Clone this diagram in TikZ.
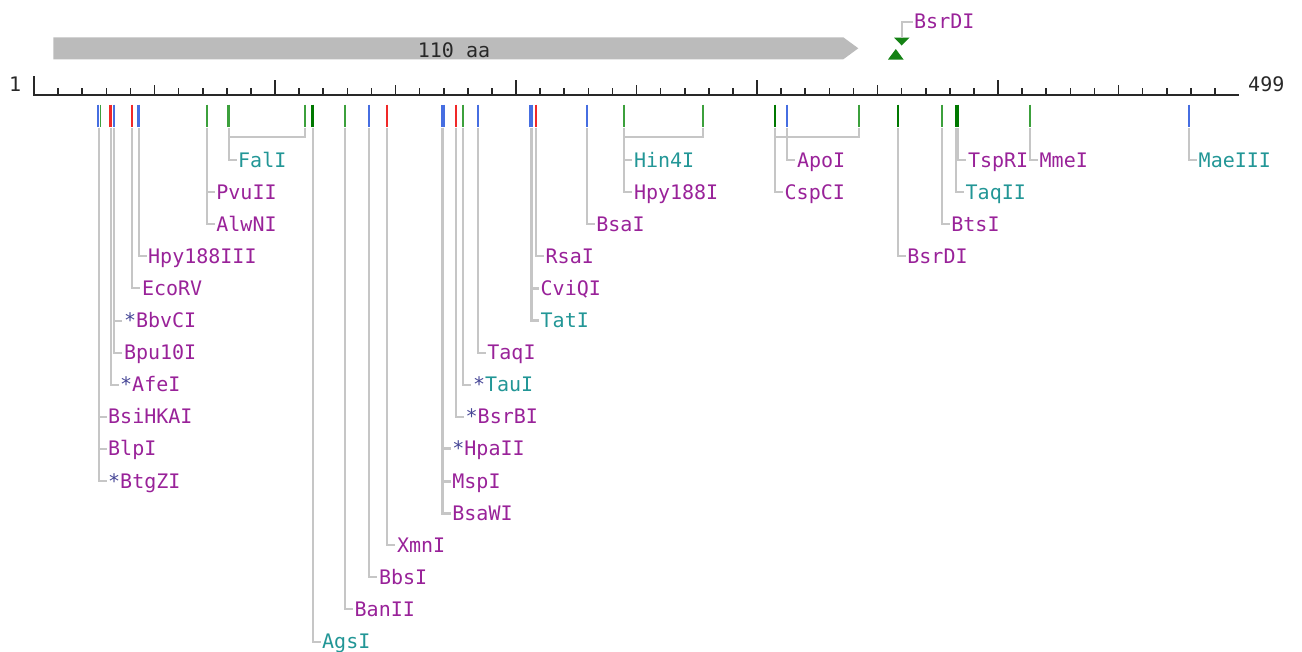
\documentclass[tikz,border=0pt]{standalone}
\usepackage{fontspec}
\newfontfamily\monof{DejaVu Sans Mono}
\newcommand\rsfont{\monof\fontsize{20}{20}\selectfont}
\definecolor{labpur}{RGB}{153,34,153}
\definecolor{labteal}{RGB}{34,150,150}
\definecolor{astc}{RGB}{70,70,150}
\definecolor{tblue}{RGB}{70,110,225}
\definecolor{tred}{RGB}{240,40,40}
\definecolor{tgreen}{RGB}{60,160,60}
\definecolor{tdkgreen}{RGB}{0,120,0}
\definecolor{conncol}{RGB}{198,198,198}
\definecolor{barcol}{RGB}{187,187,187}
\definecolor{rulecol}{RGB}{40,40,40}
\definecolor{mkgreen}{RGB}{20,130,20}
\newcommand\rsast{{\color{astc}*}}
\begin{document}
\begin{tikzpicture}[x=1pt,y=-1pt,
  lab/.style={anchor=west, inner xsep=1.5pt, inner ysep=0pt, text height=14pt, text depth=0pt, font=\rsfont, text=labpur},
  tlab/.style={lab, text=labteal},
  conn/.style={draw=conncol, line width=2pt},
  connw/.style={draw=conncol, line width=3pt},
  site/.style={line width=2.2pt},
  sitew/.style={line width=4pt},
  rtick/.style={draw=rulecol, line width=1.6pt}]
\useasboundingbox (0,0) rectangle (1302,651);

% ORF bar
\fill[barcol] (53.3,37.3) -- (843.3,37.3) -- (858.3,48.3) -- (843.3,59.3) -- (53.3,59.3) -- cycle;
\node[inner sep=0pt, text height=14pt, text depth=0pt, font=\rsfont, text=rulecol] (orf) at (454,50.3) {110 aa};

% top BsrDI marker
\fill[mkgreen] (894,37.5) -- (909.5,37.5) -- (901.7,45.5) -- cycle;
\fill[mkgreen] (888,59.5) -- (903.5,59.5) -- (895.8,49) -- cycle;
\coordinate (mk) at (901.7,37.5);
\node[lab] (BsrDItop) at (912.5,21.7) {BsrDI};
\draw[conn] (mk) |- (BsrDItop.west);

% ruler
\draw[rulecol, line width=2pt] (33.3,94.5) -- (1239,94.5);
\draw[rtick] (34,76) -- (34,94.5);
\foreach \p in {10,20,...,490}{
  \pgfmathsetmacro{\xx}{34+2.41*\p}
  \pgfmathtruncatemacro{\mh}{mod(\p,100)==0 ? 1 : 0}
  \pgfmathtruncatemacro{\mm}{mod(\p,50)==0 ? 1 : 0}
  \ifnum\mh=1 \draw[rtick] (\xx,80) -- (\xx,94.5);
  \else\ifnum\mm=1 \draw[rtick] (\xx,85) -- (\xx,94.5);
  \else \draw[rtick] (\xx,88.3) -- (\xx,94.5);\fi\fi
}
\node[anchor=west, inner sep=0pt, text height=14pt, text depth=0pt, font=\rsfont, text=rulecol] (one) at (9,84.7) {1};
\node[anchor=west, inner sep=0pt, text height=14pt, text depth=0pt, font=\rsfont, text=rulecol] (end) at (1248,84.2) {499};

% site ticks
\draw[site, tblue] (97.8,104.5) -- (97.8,126.5);
\draw[line width=1.5pt, tgreen] (100.3,104.5) -- (100.3,126.5);
\draw[site, tred] (110.5,104.5) -- (110.5,126.5);
\draw[site, tblue] (114.3,104.5) -- (114.3,126.5);
\draw[site, tred] (132.3,104.5) -- (132.3,126.5);
\draw[site, tblue] (138.5,104.5) -- (138.5,126.5);
\draw[site, tgreen] (206.7,104.5) -- (206.7,126.5);
\draw[site, tgreen] (228.5,104.5) -- (228.5,126.5);
\draw[site, tgreen] (305,104.5) -- (305,126.5);
\draw[site, tdkgreen] (312.5,104.5) -- (312.5,126.5);
\draw[site, tgreen] (345,104.5) -- (345,126.5);
\draw[site, tblue] (369.3,104.5) -- (369.3,126.5);
\draw[site, tred] (387.3,104.5) -- (387.3,126.5);
\draw[sitew, tblue] (442.7,104.5) -- (442.7,126.5);
\draw[site, tred] (456,104.5) -- (456,126.5);
\draw[site, tgreen] (463.3,104.5) -- (463.3,126.5);
\draw[site, tblue] (477.7,104.5) -- (477.7,126.5);
\draw[sitew, tblue] (531,104.5) -- (531,126.5);
\draw[site, tred] (536,104.5) -- (536,126.5);
\draw[site, tblue] (586.7,104.5) -- (586.7,126.5);
\draw[site, tgreen] (624.3,104.5) -- (624.3,126.5);
\draw[site, tgreen] (702.7,104.5) -- (702.7,126.5);
\draw[site, tdkgreen] (775,104.5) -- (775,126.5);
\draw[site, tblue] (787.3,104.5) -- (787.3,126.5);
\draw[site, tgreen] (859.3,104.5) -- (859.3,126.5);
\draw[site, tdkgreen] (897.7,104.5) -- (897.7,126.5);
\draw[site, tgreen] (941.7,104.5) -- (941.7,126.5);
\draw[sitew, tdkgreen] (957,104.5) -- (957,126.5);
\draw[site, tgreen] (1030,104.5) -- (1030,126.5);
\draw[site, tblue] (1189,104.5) -- (1189,126.5);

% connector start coordinates
\coordinate (s98) at (98.5,127.5);
\coordinate (s110) at (110.5,127.5);
\coordinate (s114) at (114.3,127.5);
\coordinate (s132) at (132.3,127.5);
\coordinate (s138) at (138.5,127.5);
\coordinate (s206) at (206.7,127.5);
\coordinate (s228) at (228.5,127.5);
\coordinate (s305) at (305,127.5);
\coordinate (s312) at (312.5,127.5);
\coordinate (s345) at (345,127.5);
\coordinate (s369) at (369.3,127.5);
\coordinate (s387) at (387.3,127.5);
\coordinate (s442) at (442.7,127.5);
\coordinate (s456) at (456,127.5);
\coordinate (s463) at (463.3,127.5);
\coordinate (s477) at (477.7,127.5);
\coordinate (s531) at (531,127.5);
\coordinate (s536) at (536,127.5);
\coordinate (s586) at (586.7,127.5);
\coordinate (s624) at (624.3,127.5);
\coordinate (s702) at (702.7,127.5);
\coordinate (s775) at (775,127.5);
\coordinate (s787) at (787.3,127.5);
\coordinate (s859) at (859.3,127.5);
\coordinate (s897) at (897.7,127.5);
\coordinate (s941) at (941.7,127.5);
\coordinate (s956) at (956,127.5);
\coordinate (s958) at (958.3,127.5);
\coordinate (s1030) at (1030,127.5);
\coordinate (s1189) at (1189,127.5);
\coordinate (b1) at (228.5,137.3);
\coordinate (b2) at (624.3,137.3);
\coordinate (b3) at (775,137.3);

% labels (rows: 160 + 32.1 k)
\node[lab] (BsiHKAI) at (106.5,416.8) {BsiHKAI};
\node[lab] (BlpI) at (106.5,448.9) {BlpI};
\node[lab] (BtgZI) at (106.5,481) {\rsast BtgZI};
\node[lab] (AfeI) at (118.5,384.7) {\rsast AfeI};
\node[lab] (Bpu10I) at (122.3,352.6) {Bpu10I};
\node[lab] (BbvCI) at (122.3,320.5) {\rsast BbvCI};
\node[lab] (EcoRV) at (140.3,288.4) {EcoRV};
\node[lab] (Hpy188III) at (146.5,256.3) {Hpy188III};
\node[lab] (PvuII) at (214.7,192.1) {PvuII};
\node[lab] (AlwNI) at (214.7,224.2) {AlwNI};
\node[tlab] (FalI) at (236.5,160) {FalI};
\node[tlab] (AgsI) at (320.5,641.5) {AgsI};
\node[lab] (BanII) at (353,609.4) {BanII};
\node[lab] (BbsI) at (377.3,577.3) {BbsI};
\node[lab] (XmnI) at (395.3,545.2) {XmnI};
\node[lab] (HpaII) at (450.7,448.9) {\rsast HpaII};
\node[lab] (MspI) at (450.7,481) {MspI};
\node[lab] (BsaWI) at (450.7,513.1) {BsaWI};
\node[lab] (BsrBI) at (464,416.8) {\rsast BsrBI};
\node[tlab] (TauI) at (471.3,384.7) {\rsast TauI};
\node[lab] (TaqI) at (485.7,352.6) {TaqI};
\node[lab] (CviQI) at (539,288.4) {CviQI};
\node[tlab] (TatI) at (539,320.5) {TatI};
\node[lab] (RsaI) at (544,256.3) {RsaI};
\node[lab] (BsaI) at (594.7,224.2) {BsaI};
\node[tlab] (Hin4I) at (632.3,160) {Hin4I};
\node[lab] (Hpy188I) at (632.3,192.1) {Hpy188I};
\node[lab] (CspCI) at (783,192.1) {CspCI};
\node[lab] (ApoI) at (795.3,160) {ApoI};
\node[lab] (BsrDI) at (905.7,256.3) {BsrDI};
\node[lab] (BtsI) at (949.7,224.2) {BtsI};
\node[tlab] (TaqII) at (964,192.1) {TaqII};
\node[lab] (TspRI) at (966.3,160) {TspRI};
\node[lab] (MmeI) at (1038,160) {MmeI};
\node[tlab] (MaeIII) at (1197,160) {MaeIII};

% connectors
\draw[conn] (s98) |- (BsiHKAI.west);
\draw[conn] (s98) |- (BlpI.west);
\draw[conn] (s98) |- (BtgZI.west);
\draw[conn] (s110) |- (AfeI.west);
\draw[conn] (s114) |- (BbvCI.west);
\draw[conn] (s114) |- (Bpu10I.west);
\draw[conn] (s132) |- (EcoRV.west);
\draw[conn] (s138) |- (Hpy188III.west);
\draw[conn] (s206) |- (PvuII.west);
\draw[conn] (s206) |- (AlwNI.west);
\draw[conn] (s305) |- (b1);
\draw[conn] (s228) |- (FalI.west);
\draw[conn] (s312) |- (AgsI.west);
\draw[conn] (s345) |- (BanII.west);
\draw[conn] (s369) |- (BbsI.west);
\draw[conn] (s387) |- (XmnI.west);
\draw[connw] (s442) |- (HpaII.west);
\draw[connw] (s442) |- (MspI.west);
\draw[connw] (s442) |- (BsaWI.west);
\draw[conn] (s456) |- (BsrBI.west);
\draw[conn] (s463) |- (TauI.west);
\draw[conn] (s477) |- (TaqI.west);
\draw[connw] (s531) |- (CviQI.west);
\draw[connw] (s531) |- (TatI.west);
\draw[conn] (s536) |- (RsaI.west);
\draw[conn] (s586) |- (BsaI.west);
\draw[conn] (s702) |- (b2);
\draw[conn] (s624) |- (Hin4I.west);
\draw[conn] (s624) |- (Hpy188I.west);
\draw[conn] (s859) |- (b3);
\draw[conn] (s775) |- (CspCI.west);
\draw[conn] (s787) |- (ApoI.west);
\draw[conn] (s897) |- (BsrDI.west);
\draw[conn] (s941) |- (BtsI.west);
\draw[conn] (s956) |- (TaqII.west);
\draw[conn] (s958) |- (TspRI.west);
\draw[conn] (s1030) |- (MmeI.west);
\draw[conn] (s1189) |- (MaeIII.west);
\end{tikzpicture}
\end{document}
